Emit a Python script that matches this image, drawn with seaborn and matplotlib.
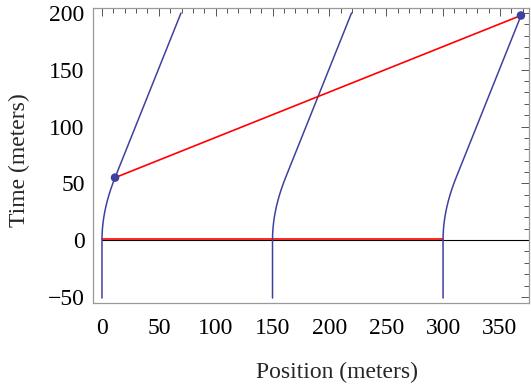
import matplotlib
matplotlib.use("Agg")
import matplotlib.pyplot as plt
import seaborn as sns
import numpy as np
from matplotlib.ticker import MultipleLocator

# ---- data ----
ship_starts = [0, 150, 300]                       # starting positions (m)
# first ship's worldline relative to its start: time (m) and position offset (m)
path_t = [-51, 0, 5, 10, 15, 20, 25, 30, 35, 40, 45, 50, 55, 200]
path_x = [0.0, 0.0, 0.10, 0.40, 0.89, 1.58, 2.46, 3.52, 4.78, 6.20, 7.80, 9.56, 11.48, 69.5]
# simultaneity lines (red)
sim0_x = [0, 300]
sim0_t = [0.8, 0.8]
sim1_x = [11.48, 368.5]
sim1_t = [55.0, 197.8]

BLUE = "#4040a0"
RED = "#ff0000"
FRAME = "#999999"
TICK = "#555555"

sns.set_style("white")
plt.rcParams["font.family"] = ["Liberation Serif", "DejaVu Serif"]
plt.rcParams["mathtext.fontset"] = "stix"

fig = plt.figure(figsize=(5.31, 3.84), dpi=100)
ax = fig.add_axes([93/531, 1-303/384, (529-93)/531, (303-8)/384])

ax.axhline(0, xmin=(0+7.9)/(375.6+7.9), xmax=1, color="black", lw=0.8, zorder=1)

for x0 in ship_starts:
    sns.lineplot(x=[x0 + v for v in path_x], y=path_t, sort=False, estimator=None,
                 color=BLUE, lw=1.1, ax=ax, zorder=3)

sns.lineplot(x=sim0_x, y=sim0_t, sort=False, estimator=None, color=RED, lw=1.2, ax=ax, zorder=2)
sns.lineplot(x=sim1_x, y=sim1_t, sort=False, estimator=None, color=RED, lw=1.2, ax=ax, zorder=4)
sns.scatterplot(x=sim1_x, y=sim1_t, color=BLUE, s=38, edgecolor="none", ax=ax, zorder=5)

ax.set_xlim(-7.9, 375.6)
ax.set_ylim(-55.4, 204.4)

for s in ax.spines.values():
    s.set_visible(True)
    s.set_color(FRAME)
    s.set_linewidth(0.9)

ax.xaxis.set_major_locator(MultipleLocator(50))
ax.xaxis.set_minor_locator(MultipleLocator(10))
ax.yaxis.set_major_locator(MultipleLocator(50))
ax.yaxis.set_minor_locator(MultipleLocator(10))
ax.tick_params(which="both", direction="in", top=True, right=True, color=TICK, width=0.7,
               labelsize=17, labelcolor="black")
ax.tick_params(which="major", length=6)
ax.tick_params(which="minor", length=3.5)
ax.tick_params(axis="x", which="both", pad=10.5)
ax.tick_params(axis="y", which="both", pad=6)

ax.set_yticks([-50, 0, 50, 100, 150, 200])
ax.set_yticklabels(["\u221250", "0", "50", "100", "150", "200"])

ax.set_xlabel("Position (meters)", fontsize=17)
ax.set_ylabel("Time (meters)", fontsize=17)
ax.xaxis.set_label_coords(0.56, -0.2)
ax.yaxis.set_label_coords(-0.145, 0.485)

fig.savefig("out.png", dpi=100)
